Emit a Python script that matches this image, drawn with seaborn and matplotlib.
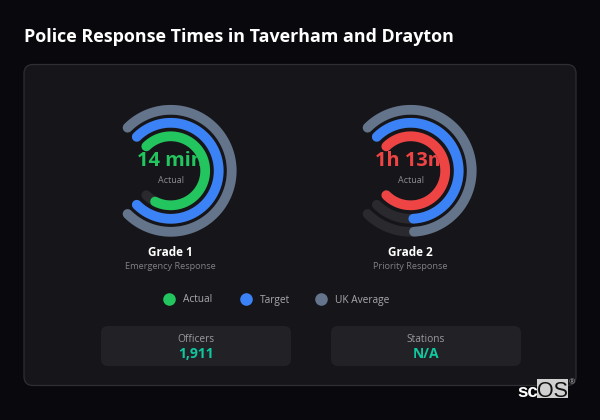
import numpy as np
import seaborn as sns
import matplotlib.pyplot as plt
from matplotlib.patches import FancyBboxPatch

sns.set_theme(style="dark")
plt.rcParams['font.family'] = ['Open Sans', 'DejaVu Sans']

grades = ['Grade 1', 'Grade 2']
subtitles = ['Emergency Response', 'Priority Response']
center_labels = ['14 min', '1h 13m']
# minutes
actual = [14, 73]
target = [15, 60]
uk_average = [15, 60]
actual_colors = ['#22c55e', '#ef4444']

legend_labels = ['Actual', 'Target', 'UK Average']
legend_colors = ['#22c55e', '#3b82f6', '#64748b']
stat_labels = ['Officers', 'Stations']
stat_values = ['1,911', 'N/A']

W, H = 600, 420
BG = '#09090d'
PANEL = '#16161a'
TRACK = '#2a2a2e'

fig = plt.figure(figsize=(W / 100, H / 100), dpi=100, facecolor=BG)

# pixel canvas for the panel and all the text
bg = fig.add_axes([0, 0, 1, 1], zorder=0)
bg.set_xlim(0, W)
bg.set_ylim(H, 0)
bg.axis('off')

bg.text(24, 42, 'Police Response Times in Taverham and Drayton', color='white',
        fontsize=12.9, fontweight='bold', va='baseline', ha='left')
bg.add_patch(FancyBboxPatch((24, 64.5), 552, 321, boxstyle='round,pad=0,rounding_size=9',
                            fc=PANEL, ec='#2e2e33', lw=0.9))


def ring(ax, radius, color, frac):
    theta = np.radians(np.linspace(-45, -45 + 270 * frac, 120))
    sns.lineplot(x=theta, y=np.full_like(theta, radius), ax=ax, color=color, lw=7.0,
                 estimator=None, sort=False, legend=False, solid_capstyle='round')


centers = [170.7, 410.7]
cy = 170.8
size = 70
for i, cx in enumerate(centers):
    ax = fig.add_axes([(cx - size) / W, 1 - (cy + size) / H, 2 * size / W, 2 * size / H],
                      projection='polar', zorder=1)
    ax.set_theta_zero_location('N')
    ax.set_theta_direction(-1)
    ax.patch.set_alpha(0)
    top = max(actual[i], target[i], uk_average[i])
    for radius, value, color in [(61, uk_average[i], legend_colors[2]),
                                 (48, target[i], legend_colors[1]),
                                 (34.5, actual[i], actual_colors[i])]:
        ring(ax, radius, TRACK, 1)
        ring(ax, radius, color, value / top)
    ax.set_ylim(0, size)
    ax.axis('off')

    bg.text(cx, 166, center_labels[i], color=actual_colors[i], fontsize=14.4,
            fontweight='bold', ha='center', va='baseline')
    bg.text(cx, 183, 'Actual', color='#8b8b90', fontsize=6.5, ha='center', va='baseline')
    bg.text(cx, 256, grades[i], color='white', fontsize=8.5, fontweight='bold',
            ha='center', va='baseline')
    bg.text(cx, 269, subtitles[i], color='#808085', fontsize=6.6, ha='center', va='baseline')

# legend
for x, label, color in zip([169, 246, 321], legend_labels, legend_colors):
    bg.scatter([x], [299], s=82, color=color, linewidths=0)
    bg.text(x + 14, 302.5, label, color='#a8a8ad', fontsize=7.3, ha='left', va='baseline')

# stat cards
for x, label, value in zip([101, 331], stat_labels, stat_values):
    bg.add_patch(FancyBboxPatch((x, 326), 190, 40, boxstyle='round,pad=0,rounding_size=7',
                                fc='#222226', ec='none'))
    bg.text(x + 95, 342, label, color='#9a9a9f', fontsize=7.3, ha='center', va='baseline')
    bg.text(x + 95, 358, value, color='#10c8a0', fontsize=10, fontweight='bold',
            ha='center', va='baseline')

# logo
bg.add_patch(plt.Rectangle((537, 379), 31, 19, fc='#d0d0d0', ec='none'))
bg.text(517, 397, 'sc', color='white', fontsize=13.5, family='Liberation Sans',
        fontweight='bold', ha='left', va='baseline')
bg.text(552.5, 397, 'OS', color='#111111', fontsize=15.5, family='Liberation Sans',
        ha='center', va='baseline')
bg.text(572, 384, '®', color='#b0b0b0', fontsize=5.5, ha='center', va='baseline')

fig.savefig('out.png', dpi=100, facecolor=BG)
